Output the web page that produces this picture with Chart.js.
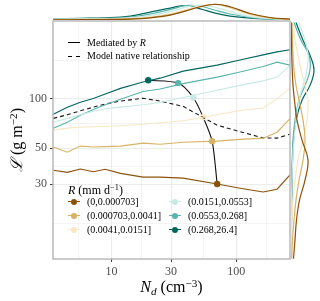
<!DOCTYPE html>
<html><head><meta charset="utf-8">
<script src="https://cdn.jsdelivr.net/npm/chart.js@4"></script>
<style>
html,body{margin:0;padding:0;background:#fff;}
#wrap{position:relative;width:320px;height:301px;overflow:hidden;font-family:"Liberation Serif","DejaVu Serif",serif;color:#000;}
canvas{position:absolute;display:block;}
.t{position:absolute;white-space:nowrap;line-height:1;}
.ln{position:absolute;height:0;}
.dot{position:absolute;width:6.4px;height:6.4px;border-radius:50%;}
sup{font-size:70%;vertical-align:0;position:relative;top:-0.45em;}
sub{font-size:70%;vertical-align:0;position:relative;top:0.3em;}
</style></head>
<body><div id="wrap">
<canvas id="main" width="320" height="301" style="left:0;top:0;width:320px;height:301px"></canvas>
<canvas id="topm" width="237" height="20" style="left:53px;top:0;width:237px;height:20px"></canvas>
<canvas id="rightm" width="29" height="238" style="left:291px;top:21px;width:29px;height:238px"></canvas>

<div class="ln" style="left:68px;top:42px;width:12px;border-top:1.2px solid #000"></div>
<div class="t" style="left:87px;top:37.5px;font-size:10px">Mediated by <i>R</i></div>
<div class="ln" style="left:68px;top:55.5px;width:4px;border-top:1.2px solid #000"></div>
<div class="ln" style="left:76px;top:55.5px;width:4px;border-top:1.2px solid #000"></div>
<div class="t" style="left:87px;top:51px;font-size:10px">Model native relationship</div>

<div class="t" style="left:68px;top:184px;font-size:12px"><i>R</i> (mm d<sup>−1</sup>)</div>
<div id="rleg"></div>

<div class="t" style="left:171.5px;top:287px;font-size:16px;transform:translate(-50%,-50%)"><i>N</i><sub><i>d</i></sub> (cm<sup>−3</sup>)</div>
<div class="t" style="left:17px;top:140px;font-size:16px;transform:translate(-50%,-50%) rotate(-90deg)"><span style="font-family:'DejaVu Serif',serif;font-style:italic">ℒ</span> (g m<sup>−2</sup>)</div>
</div>
<script>
// ---------- data ----------
const rClasses = ['(0,0.000703]','(0.000703,0.0041]','(0.0041,0.0151]','(0.0151,0.0553]','(0.0553,0.268]','(0.268,26.4]'];
const nGrid  = [3.42,4.43,5.63,7.15,8.92,11.8,17.9,24.5,37.5,70.2,107,164,212,269];
const lwpR1  = [36.6,35.5,37.2,35.8,37.1,35.0,33.2,33.2,32.7,30.1,28.4,26.9,28.0,34.2];
const lwpR2  = [50.7,47.2,51.4,50.7,51.0,51.4,53.6,52.8,54.3,55.1,56.5,57.5,62.5,75.7];
const lwpR3  = [64.4,66.2,67.0,67.5,68.0,68.5,70.0,71.5,73.5,80.0,85.0,88.0,100,116];
const lwpR4  = [72,76,80,84,87,89,92,95,102,113,121,129,136,160];
const lwpR5  = [66,72,79.5,86,92,99.5,111,115,124,136,146,158,168,161];
const lwpR6  = [80.6,89,95.4,100.5,107,116,127,134,148,161,173,186,194,200];
const lwpNative = [76,80,84.6,89,93,97,101,97,90,69,63,57.7,57.5,60.8];
// mediated path (from highest R class to lowest)
const medN = [19.7,34.2,45.1,54.2,64.0,70.2];
const medL = [130,125,102,77.3,55.1,30.1];
// marginal densities (relative)
const topN = [3.42,5.63,8.92,14.1,20.4,29.5,39,51.3,67.7,89.2,129,186,269];
const topD = [
  [0.01,0.02,0.03,0.06,0.14,0.31,0.56,0.84,1.00,0.84,0.41,0.16,0.05],
  [0.03,0.03,0.04,0.08,0.16,0.34,0.59,0.84,1.00,0.81,0.38,0.14,0.04],
  [0.04,0.05,0.06,0.10,0.20,0.41,0.66,0.88,0.97,0.75,0.31,0.12,0.04],
  [0.05,0.06,0.08,0.14,0.28,0.53,0.81,0.94,0.81,0.53,0.22,0.09,0.04],
  [0.06,0.08,0.11,0.19,0.38,0.66,0.91,0.88,0.62,0.38,0.16,0.06,0.03],
  [0.08,0.11,0.14,0.25,0.50,0.75,0.92,0.71,0.44,0.25,0.12,0.06,0.03]
];
const rightL = [294,229,185,150,121,98.2,74.1,55.9,42.2,31.8,24.0,18.1,13.7,10.5];
const rightD = [
  [0.01,0.02,0.03,0.05,0.08,0.14,0.24,0.44,0.68,0.56,0.34,0.22,0.16,0.10],
  [0.04,0.06,0.08,0.12,0.20,0.32,0.48,0.56,0.48,0.32,0.20,0.12,0.06,0.03],
  [0.08,0.16,0.28,0.40,0.56,0.68,0.64,0.48,0.28,0.16,0.08,0.04,0.02,0.01],
  [0.32,0.56,0.68,0.64,0.48,0.32,0.20,0.12,0.07,0.04,0.02,0.02,0.01,0.01],
  [0.12,0.40,0.72,0.76,0.56,0.32,0.16,0.08,0.05,0.03,0.02,0.02,0.01,0.01],
  [0.20,0.48,0.76,0.92,0.76,0.44,0.20,0.10,0.06,0.04,0.03,0.02,0.01,0.01]
];
const xMajor = [10,30,100];
const xMinor = [5.48,17.3,54.8,173];
const yMajor = [30,50,100];
const yMinor = [17.3,38.7,70.7,173];

// ---------- styles ----------
const colors = ['#8c510a','#d8b365','#f6e8c3','#c7eae5','#5ab4ac','#01665e'];
const serif = '"Liberation Serif","DejaVu Serif",serif';
const xMin = 3.40, xMax = 269, yMin = 10.46, yMax = 300;

// R legend in HTML
const rl = document.getElementById('rleg');
rClasses.forEach((c,i)=>{
  const col = Math.floor(i/3), row = i%3;
  const cx = col ? 175 : 74, cy = [202,216,230][row];
  const tx = col ? 188 : 87;
  rl.insertAdjacentHTML('beforeend',
    `<div class="ln" style="left:${cx-6}px;top:${cy-0.6}px;width:12px;border-top:1.2px solid ${colors[i]}"></div>`+
    `<div class="dot" style="left:${cx-3.2}px;top:${cy-3.2}px;background:${colors[i]}"></div>`+
    `<div class="t" style="left:${tx}px;top:${cy-5}px;font-size:10px">${c}</div>`);
});

const series = [lwpR1,lwpR2,lwpR3,lwpR4,lwpR5,lwpR6];
const datasets = series.map((s,i)=>({
  data: s.map((v,j)=>({x:nGrid[j],y:v})),
  showLine:true, borderColor:colors[i], borderWidth:1.1, pointRadius:0, tension:0
}));
datasets.push({
  data: lwpNative.map((v,j)=>({x:nGrid[j],y:v})),
  showLine:true, borderColor:'#1a1a1a', borderWidth:1.1, borderDash:[4,3], pointRadius:0, tension:0
});
const medColors = colors.slice().reverse();
datasets.push({
  data: medN.map((n,j)=>({x:n,y:medL[j]})),
  showLine:true, borderColor:'#111', borderWidth:1.1, tension:0.25,
  pointRadius:3.2, pointBackgroundColor:medColors, pointBorderColor:medColors, pointBorderWidth:0
});

const isMaj = (arr,v)=>arr.some(m=>Math.abs(m-v)<1e-6);
function axis(min,max,majors,minors,axisId){
  return {
    type:'logarithmic', min, max,
    afterBuildTicks: s => { s.ticks = majors.concat(minors).sort((a,b)=>a-b).map(v=>({value:v})); },
    afterFit: s => { if(axisId==='y') s.width = 53; else s.height = 25; },
    border:{display:false},
    grid:{
      color:'#ececec',
      lineWidth: c => (c.tick && isMaj(majors,c.tick.value)) ? 1.1 : 0.6,
      tickColor: c => (c.tick && isMaj(majors,c.tick.value)) ? '#333' : 'rgba(0,0,0,0)',
      tickLength:3, tickWidth:1
    },
    ticks:{
      autoSkip:false, maxRotation:0, padding:3, color:'#4d4d4d',
      font:{family:serif,size:12},
      callback: v => isMaj(majors,v) ? String(v) : ''
    }
  };
}

const borderPlugin = {
  id:'panelBorder',
  afterDraw(chart){
    const {ctx, chartArea:a} = chart;
    ctx.save(); ctx.strokeStyle='#b5b5b5'; ctx.lineWidth=1.4;
    ctx.strokeRect(a.left, a.top, a.right-a.left, a.bottom-a.top);
    ctx.restore();
  }
};

new Chart(document.getElementById('main'), {
  type:'scatter',
  data:{datasets},
  options:{
    responsive:false, animation:false, devicePixelRatio:1,
    layout:{padding:{left:0,top:21,right:30,bottom:17}},
    plugins:{legend:{display:false},tooltip:{enabled:false}},
    scales:{ x: axis(xMin,xMax,xMajor,xMinor,'x'), y: axis(yMin,yMax,yMajor,yMinor,'y') }
  },
  plugins:[borderPlugin]
});

new Chart(document.getElementById('topm'), {
  type:'scatter',
  data:{datasets: topD.map((d,i)=>({
    data:d.map((v,j)=>({x:topN[j],y:v})), showLine:true, borderColor:colors[i],
    borderWidth:1.2, pointRadius:0, tension:0.4 }))},
  options:{
    responsive:false, animation:false, devicePixelRatio:1,
    layout:{padding:0},
    plugins:{legend:{display:false},tooltip:{enabled:false}},
    scales:{ x:{type:'logarithmic',min:xMin,max:xMax,display:false},
             y:{type:'linear',min:0,max:1.27,display:false} }
  }
});

new Chart(document.getElementById('rightm'), {
  type:'scatter',
  data:{datasets: rightD.map((d,i)=>({
    data:d.map((v,j)=>({x:v,y:rightL[j]})), showLine:true, borderColor:colors[i],
    borderWidth:1.2, pointRadius:0, tension:0.4 }))},
  options:{
    responsive:false, animation:false, devicePixelRatio:1,
    layout:{padding:0},
    plugins:{legend:{display:false},tooltip:{enabled:false}},
    scales:{ x:{type:'linear',min:0,max:1.16,display:false},
             y:{type:'logarithmic',min:yMin,max:yMax,display:false} }
  }
});
</script>
</body></html>
